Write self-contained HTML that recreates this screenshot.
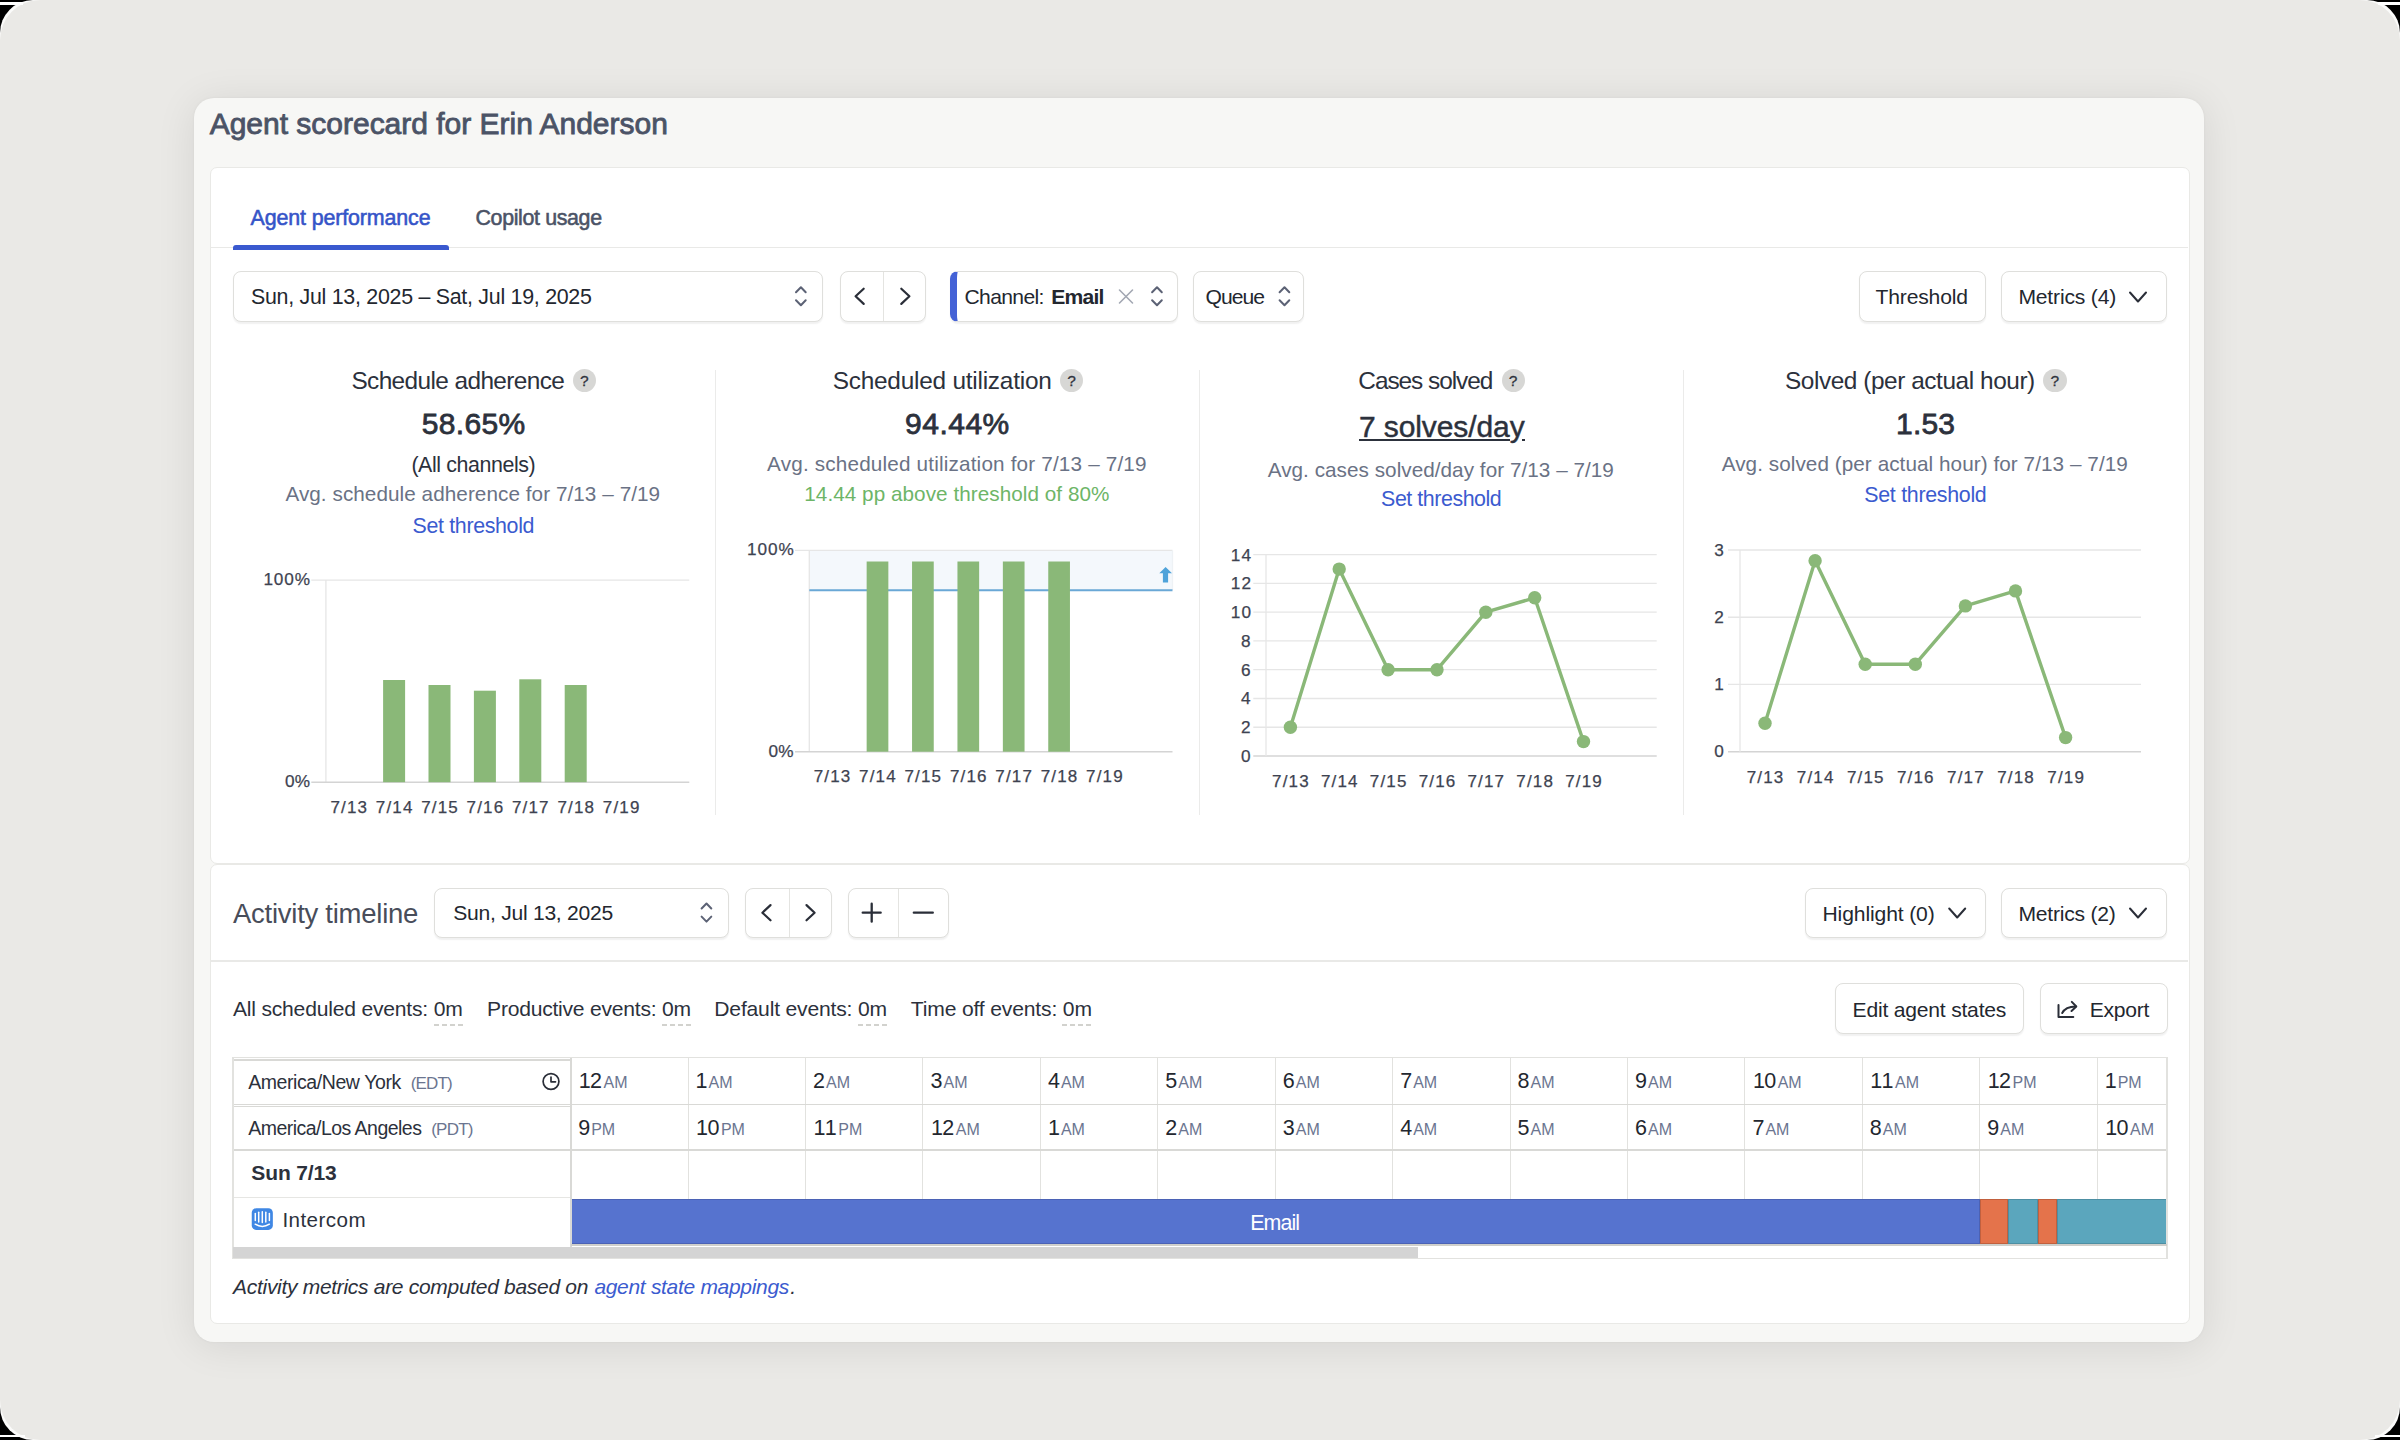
<!DOCTYPE html>
<html><head><meta charset="utf-8"><style>
html,body{margin:0;padding:0;}
body{width:2400px;height:1440px;background:#000;position:relative;overflow:hidden;font-family:"Liberation Sans",sans-serif;}
#ring{position:absolute;left:0;top:0;width:2400px;height:1440px;background:#fbfbfa;border-radius:33px;}
#bg{position:absolute;left:0;top:0;width:2400px;height:1440px;background:#eae9e6;border-radius:40px;}
.t{position:absolute;white-space:nowrap;line-height:1;}
</style></head><body>
<div id="ring"></div><div id="bg"></div>
<div style="position:absolute;left:0;top:2px;width:23px;height:2.6px;background:#fff"></div><div style="position:absolute;right:0;top:2px;width:22px;height:2.6px;background:#fff"></div><div style="position:absolute;left:0;top:1434.7px;width:25px;height:2.3px;background:#fff"></div><div style="position:absolute;right:0;top:1434.7px;width:25px;height:2.3px;background:#fff"></div>
<div style="position:absolute;left:194px;top:98px;width:2010px;height:1243.5px;background:#f7f7f5;border-radius:20px;box-shadow:0 4px 40px rgba(0,0,0,0.09), 0 0 3px rgba(0,0,0,0.05);"></div>
<div style="position:absolute;left:210px;top:167px;width:1980px;height:697px;background:#fff;border:1.2px solid #e9e9e6;border-radius:7px;box-sizing:border-box;"></div>
<div style="position:absolute;left:210px;top:864px;width:1980px;height:459.5px;background:#fff;border:1.2px solid #e9e9e6;border-radius:7px;box-sizing:border-box;"></div>
<div class="t" style="left:209.70px;top:109px;font-size:30px;font-weight:400;font-style:normal;color:#4b5366;letter-spacing:-0.013px;-webkit-text-stroke:0.85px #4b5366;">Agent scorecard for Erin Anderson</div>
<div class="t" style="left:250.50px;top:208px;font-size:21.4px;font-weight:400;font-style:normal;color:#3554c8;letter-spacing:-0.116px;-webkit-text-stroke:0.56px #3554c8;">Agent performance</div>
<div class="t" style="left:475.50px;top:208px;font-size:21.4px;font-weight:400;font-style:normal;color:#4b5366;letter-spacing:-0.354px;-webkit-text-stroke:0.56px #4b5366;">Copilot usage</div>
<div style="position:absolute;left:211px;top:247px;width:1977px;height:1.3px;background:#e9e9e7;"></div>
<div style="position:absolute;left:232.5px;top:245px;width:216px;height:5px;background:#3a59cf;border-radius:3px 3px 0 0;"></div>
<div style="position:absolute;left:233px;top:271px;width:590px;height:50.5px;background:#fff;border:1.3px solid #dfdfdc;border-radius:8px;box-shadow:0 1.5px 1.5px rgba(0,0,0,0.06);box-sizing:border-box;"></div>
<div class="t" style="left:251.00px;top:287px;font-size:21.4px;font-weight:400;font-style:normal;color:#23272f;letter-spacing:-0.276px;">Sun, Jul 13, 2025 – Sat, Jul 19, 2025</div>
<div style="position:absolute;left:839.5px;top:271px;width:86.5px;height:50.5px;background:#fff;border:1.3px solid #dfdfdc;border-radius:8px;box-shadow:0 1.5px 1.5px rgba(0,0,0,0.06);box-sizing:border-box;"></div>
<div style="position:absolute;left:883px;top:272px;width:1.3px;height:48.5px;background:#e4e4e1;"></div>
<div style="position:absolute;left:950px;top:271px;width:227.5px;height:50.5px;background:#fff;border:1.3px solid #dfdfdc;border-radius:8px;box-shadow:0 1.5px 1.5px rgba(0,0,0,0.06);box-sizing:border-box;border-left:7px solid #4462d6;"></div>
<div class="t" style="left:964.50px;top:286px;font-size:21.1px;font-weight:400;font-style:normal;color:#23272f;letter-spacing:-0.643px;">Channel:</div>
<div class="t" style="left:1051.30px;top:286px;font-size:21.1px;font-weight:700;font-style:normal;color:#23272f;letter-spacing:-0.794px;">Email</div>
<div style="position:absolute;left:1193px;top:271px;width:111px;height:50.5px;background:#fff;border:1.3px solid #dfdfdc;border-radius:8px;box-shadow:0 1.5px 1.5px rgba(0,0,0,0.06);box-sizing:border-box;"></div>
<div class="t" style="left:1205.50px;top:286px;font-size:21.1px;font-weight:400;font-style:normal;color:#23272f;letter-spacing:-0.969px;">Queue</div>
<div style="position:absolute;left:1859px;top:271px;width:126.5px;height:50.5px;background:#fff;border:1.3px solid #dfdfdc;border-radius:8px;box-shadow:0 1.5px 1.5px rgba(0,0,0,0.06);box-sizing:border-box;"></div>
<div class="t" style="left:1875.60px;top:286px;font-size:21.1px;font-weight:400;font-style:normal;color:#23272f;letter-spacing:-0.184px;">Threshold</div>
<div style="position:absolute;left:2001px;top:271px;width:166px;height:50.5px;background:#fff;border:1.3px solid #dfdfdc;border-radius:8px;box-shadow:0 1.5px 1.5px rgba(0,0,0,0.06);box-sizing:border-box;"></div>
<div class="t" style="left:2018.40px;top:286px;font-size:21.1px;font-weight:400;font-style:normal;color:#23272f;letter-spacing:-0.175px;">Metrics (4)</div>
<div style="position:absolute;left:714.5px;top:370px;width:1.3px;height:445px;background:#ebebea;"></div>
<div style="position:absolute;left:1198.5px;top:370px;width:1.3px;height:445px;background:#ebebea;"></div>
<div style="position:absolute;left:1682.5px;top:370px;width:1.3px;height:445px;background:#ebebea;"></div>
<div class="t" style="left:351.40px;top:369px;font-size:24.4px;font-weight:400;font-style:normal;color:#2c313c;letter-spacing:-0.601px;">Schedule adherence</div>
<div class="t" style="left:832.70px;top:369px;font-size:24.4px;font-weight:400;font-style:normal;color:#2c313c;letter-spacing:-0.231px;">Scheduled utilization</div>
<div class="t" style="left:1358.30px;top:369px;font-size:24.4px;font-weight:400;font-style:normal;color:#2c313c;letter-spacing:-1.034px;">Cases solved</div>
<div class="t" style="left:1785.00px;top:369px;font-size:24.4px;font-weight:400;font-style:normal;color:#2c313c;letter-spacing:-0.440px;">Solved (per actual hour)</div>
<div style="position:absolute;left:572.9px;top:368.9px;width:23.2px;height:23.3px;background:#d7d7d5;border-radius:50%;"></div>
<div class="t" style="left:580.05px;top:373px;font-size:15.5px;font-weight:400;font-style:normal;color:#2e323c;letter-spacing:0.000px;-webkit-text-stroke:0.3px #2e323c;">?</div>
<div style="position:absolute;left:1060.1000000000001px;top:368.9px;width:23.2px;height:23.3px;background:#d7d7d5;border-radius:50%;"></div>
<div class="t" style="left:1067.25px;top:373px;font-size:15.5px;font-weight:400;font-style:normal;color:#2e323c;letter-spacing:0.000px;-webkit-text-stroke:0.3px #2e323c;">?</div>
<div style="position:absolute;left:1501.7px;top:368.9px;width:23.2px;height:23.3px;background:#d7d7d5;border-radius:50%;"></div>
<div class="t" style="left:1508.85px;top:373px;font-size:15.5px;font-weight:400;font-style:normal;color:#2e323c;letter-spacing:0.000px;-webkit-text-stroke:0.3px #2e323c;">?</div>
<div style="position:absolute;left:2043.4px;top:368.9px;width:23.2px;height:23.3px;background:#d7d7d5;border-radius:50%;"></div>
<div class="t" style="left:2050.55px;top:373px;font-size:15.5px;font-weight:400;font-style:normal;color:#2e323c;letter-spacing:0.000px;-webkit-text-stroke:0.3px #2e323c;">?</div>
<div class="t" style="left:421.80px;top:409px;font-size:30px;font-weight:400;font-style:normal;color:#2c313c;letter-spacing:0.350px;-webkit-text-stroke:0.78px #2c313c;">58.65%</div>
<div class="t" style="left:905.10px;top:409px;font-size:30px;font-weight:400;font-style:normal;color:#2c313c;letter-spacing:0.490px;-webkit-text-stroke:0.78px #2c313c;">94.44%</div>
<div class="t" style="left:1896.00px;top:409px;font-size:30px;font-weight:400;font-style:normal;color:#2c313c;letter-spacing:0.208px;-webkit-text-stroke:0.78px #2c313c;">1.53</div>
<div class="t" style="left:1358.90px;top:412px;font-size:30px;font-weight:400;font-style:normal;color:#2c313c;letter-spacing:-0.086px;-webkit-text-stroke:0.45px #2c313c;">7 solves/day</div>
<div style="position:absolute;left:1358.9px;top:438.8px;width:151px;height:2.7px;background:#2c313c;"></div>
<div style="position:absolute;left:1522.3px;top:438.8px;width:2.6px;height:2.7px;background:#2c313c;"></div>
<div class="t" style="left:411.40px;top:455px;font-size:21.4px;font-weight:400;font-style:normal;color:#2c313c;letter-spacing:-0.408px;">(All channels)</div>
<div class="t" style="left:285.40px;top:484px;font-size:20.7px;font-weight:400;font-style:normal;color:#6a7285;letter-spacing:0.064px;">Avg. schedule adherence for 7/13 – 7/19</div>
<div class="t" style="left:412.60px;top:516px;font-size:21.4px;font-weight:400;font-style:normal;color:#3b5bcf;letter-spacing:-0.350px;">Set threshold</div>
<div class="t" style="left:767.10px;top:454px;font-size:20.7px;font-weight:400;font-style:normal;color:#6a7285;letter-spacing:0.176px;">Avg. scheduled utilization for 7/13 – 7/19</div>
<div class="t" style="left:804.30px;top:484px;font-size:20.7px;font-weight:400;font-style:normal;color:#6db567;letter-spacing:0.049px;">14.44 pp above threshold of 80%</div>
<div class="t" style="left:1267.70px;top:460px;font-size:20.7px;font-weight:400;font-style:normal;color:#6a7285;letter-spacing:0.043px;">Avg. cases solved/day for 7/13 – 7/19</div>
<div class="t" style="left:1381.10px;top:489px;font-size:21.4px;font-weight:400;font-style:normal;color:#3b5bcf;letter-spacing:-0.450px;">Set threshold</div>
<div class="t" style="left:1721.70px;top:454px;font-size:20.7px;font-weight:400;font-style:normal;color:#6a7285;letter-spacing:0.064px;">Avg. solved (per actual hour) for 7/13 – 7/19</div>
<div class="t" style="left:1864.30px;top:485px;font-size:21.4px;font-weight:400;font-style:normal;color:#3b5bcf;letter-spacing:-0.300px;">Set threshold</div>
<div class="t" style="left:233.00px;top:900px;font-size:27.5px;font-weight:400;font-style:normal;color:#484d5a;letter-spacing:-0.262px;">Activity timeline</div>
<div style="position:absolute;left:434px;top:887.5px;width:295px;height:50.5px;background:#fff;border:1.3px solid #dfdfdc;border-radius:8px;box-shadow:0 1.5px 1.5px rgba(0,0,0,0.06);box-sizing:border-box;"></div>
<div class="t" style="left:453.30px;top:902px;font-size:21.1px;font-weight:400;font-style:normal;color:#23272f;letter-spacing:-0.273px;">Sun, Jul 13, 2025</div>
<div style="position:absolute;left:745px;top:887.5px;width:87px;height:50.5px;background:#fff;border:1.3px solid #dfdfdc;border-radius:8px;box-shadow:0 1.5px 1.5px rgba(0,0,0,0.06);box-sizing:border-box;"></div>
<div style="position:absolute;left:789px;top:888.5px;width:1.3px;height:48.5px;background:#e4e4e1;"></div>
<div style="position:absolute;left:847.5px;top:887.5px;width:101.5px;height:50.5px;background:#fff;border:1.3px solid #dfdfdc;border-radius:8px;box-shadow:0 1.5px 1.5px rgba(0,0,0,0.06);box-sizing:border-box;"></div>
<div style="position:absolute;left:897.5px;top:888.5px;width:1.3px;height:48.5px;background:#e4e4e1;"></div>
<div style="position:absolute;left:1804.5px;top:887.5px;width:181px;height:50.5px;background:#fff;border:1.3px solid #dfdfdc;border-radius:8px;box-shadow:0 1.5px 1.5px rgba(0,0,0,0.06);box-sizing:border-box;"></div>
<div class="t" style="left:1822.50px;top:903px;font-size:21.1px;font-weight:400;font-style:normal;color:#23272f;letter-spacing:-0.123px;">Highlight (0)</div>
<div style="position:absolute;left:2001px;top:887.5px;width:166px;height:50.5px;background:#fff;border:1.3px solid #dfdfdc;border-radius:8px;box-shadow:0 1.5px 1.5px rgba(0,0,0,0.06);box-sizing:border-box;"></div>
<div class="t" style="left:2018.40px;top:903px;font-size:21.1px;font-weight:400;font-style:normal;color:#23272f;letter-spacing:-0.215px;">Metrics (2)</div>
<div style="position:absolute;left:211px;top:960.3px;width:1977px;height:1.3px;background:#e9e9e7;"></div>
<div class="t" style="left:232.90px;top:998px;font-size:21.1px;font-weight:400;font-style:normal;color:#2c313c;letter-spacing:-0.203px;">All scheduled events: 0m</div>
<div class="t" style="left:487.10px;top:998px;font-size:21.1px;font-weight:400;font-style:normal;color:#2c313c;letter-spacing:-0.240px;">Productive events: 0m</div>
<div class="t" style="left:714.30px;top:998px;font-size:21.1px;font-weight:400;font-style:normal;color:#2c313c;letter-spacing:-0.184px;">Default events: 0m</div>
<div class="t" style="left:910.80px;top:998px;font-size:21.1px;font-weight:400;font-style:normal;color:#2c313c;letter-spacing:-0.160px;">Time off events: 0m</div>
<div style="position:absolute;left:434px;top:1024px;width:30.19999999999999px;height:2px;background:repeating-linear-gradient(90deg,#d2d2ce 0 5px,transparent 5px 8px);"></div>
<div style="position:absolute;left:661.5px;top:1024px;width:30.0px;height:2px;background:repeating-linear-gradient(90deg,#d2d2ce 0 5px,transparent 5px 8px);"></div>
<div style="position:absolute;left:857.5px;top:1024px;width:30.0px;height:2px;background:repeating-linear-gradient(90deg,#d2d2ce 0 5px,transparent 5px 8px);"></div>
<div style="position:absolute;left:1062px;top:1024px;width:30.299999999999955px;height:2px;background:repeating-linear-gradient(90deg,#d2d2ce 0 5px,transparent 5px 8px);"></div>
<div style="position:absolute;left:1835px;top:983.3px;width:189px;height:51px;background:#fff;border:1.3px solid #dfdfdc;border-radius:8px;box-shadow:0 1.5px 1.5px rgba(0,0,0,0.06);box-sizing:border-box;"></div>
<div class="t" style="left:1852.60px;top:999px;font-size:21.1px;font-weight:400;font-style:normal;color:#23272f;letter-spacing:-0.211px;">Edit agent states</div>
<div style="position:absolute;left:2039.5px;top:983.3px;width:128px;height:51px;background:#fff;border:1.3px solid #dfdfdc;border-radius:8px;box-shadow:0 1.5px 1.5px rgba(0,0,0,0.06);box-sizing:border-box;"></div>
<div class="t" style="left:2089.80px;top:999px;font-size:21.1px;font-weight:400;font-style:normal;color:#23272f;letter-spacing:-0.300px;">Export</div>
<div class="t" style="left:233.12px;top:1276px;font-size:21px;font-weight:400;font-style:italic;color:#2c313c;letter-spacing:-0.303px;">Activity metrics are computed based on</div>
<div class="t" style="left:594.40px;top:1276px;font-size:21px;font-weight:400;font-style:italic;color:#3b5bcf;letter-spacing:-0.313px;">agent state mappings</div>
<div class="t" style="left:790.30px;top:1276px;font-size:21px;font-weight:400;font-style:italic;color:#2c313c;letter-spacing:0.000px;">.</div>
<div style="position:absolute;left:233px;top:1057px;width:1934px;height:202px;background:#fff;"></div>
<div style="position:absolute;left:688px;top:1058px;width:1.2px;height:187px;background:#e2e2df;"></div>
<div style="position:absolute;left:805px;top:1058px;width:1.2px;height:187px;background:#e2e2df;"></div>
<div style="position:absolute;left:922px;top:1058px;width:1.2px;height:187px;background:#e2e2df;"></div>
<div style="position:absolute;left:1040px;top:1058px;width:1.2px;height:187px;background:#e2e2df;"></div>
<div style="position:absolute;left:1157px;top:1058px;width:1.2px;height:187px;background:#e2e2df;"></div>
<div style="position:absolute;left:1275px;top:1058px;width:1.2px;height:187px;background:#e2e2df;"></div>
<div style="position:absolute;left:1392px;top:1058px;width:1.2px;height:187px;background:#e2e2df;"></div>
<div style="position:absolute;left:1510px;top:1058px;width:1.2px;height:187px;background:#e2e2df;"></div>
<div style="position:absolute;left:1627px;top:1058px;width:1.2px;height:187px;background:#e2e2df;"></div>
<div style="position:absolute;left:1744px;top:1058px;width:1.2px;height:187px;background:#e2e2df;"></div>
<div style="position:absolute;left:1862px;top:1058px;width:1.2px;height:187px;background:#e2e2df;"></div>
<div style="position:absolute;left:1979px;top:1058px;width:1.2px;height:187px;background:#e2e2df;"></div>
<div style="position:absolute;left:2097px;top:1058px;width:1.2px;height:187px;background:#e2e2df;"></div>
<div style="position:absolute;left:571px;top:1199px;width:1409px;height:44.7px;background:#5673cf;box-shadow:inset 0 0 0 1px #4b62b5;"></div>
<div style="position:absolute;left:1980px;top:1199px;width:28px;height:44.7px;background:#e4734b;box-shadow:inset 0 0 0 1px #c1603e;"></div>
<div style="position:absolute;left:2008px;top:1199px;width:30px;height:44.7px;background:#5ba6bd;box-shadow:inset 0 0 0 1px #4d8fa3;"></div>
<div style="position:absolute;left:2038px;top:1199px;width:19px;height:44.7px;background:#e4734b;box-shadow:inset 0 0 0 1px #c1603e;"></div>
<div style="position:absolute;left:2057px;top:1199px;width:110px;height:44.7px;background:#5ba6bd;box-shadow:inset 0 0 0 1px #4d8fa3;"></div>
<div class="t" style="left:1250.30px;top:1213px;font-size:21.4px;font-weight:400;font-style:normal;color:#ffffff;letter-spacing:-0.950px;">Email</div>
<div style="position:absolute;left:233px;top:1056.5px;width:1934px;height:1.3px;background:#e2e2df;"></div>
<div style="position:absolute;left:233px;top:1103.6px;width:1934px;height:1.6px;background:#d9d9d6;"></div>
<div style="position:absolute;left:233px;top:1149.3px;width:1934px;height:1.6px;background:#d9d9d6;"></div>
<div style="position:absolute;left:233px;top:1059.4px;width:337.6px;height:1.6px;background:#d9d9d6;"></div>
<div style="position:absolute;left:233px;top:1105.6px;width:337.6px;height:1.6px;background:#d9d9d6;"></div>
<div style="position:absolute;left:233px;top:1196.8px;width:337.6px;height:1.2px;background:#e6e6e3;"></div>
<div style="position:absolute;left:569.8px;top:1058px;width:1.8px;height:189.5999999999999px;background:#d9d9d6;"></div>
<div style="position:absolute;left:232.4px;top:1056.5px;width:1.3px;height:202.5px;background:#e2e2df;"></div>
<div style="position:absolute;left:2166.4px;top:1056.5px;width:1.3px;height:202.5px;background:#e2e2df;"></div>
<div style="position:absolute;left:571px;top:1243.8px;width:1596px;height:2.2px;background:#cfcfcb;"></div>
<div style="position:absolute;left:233px;top:1247.4px;width:1185px;height:10.6px;background:#d4d4d4;"></div>
<div style="position:absolute;left:233px;top:1257.9px;width:1934px;height:1.3px;background:#e2e2df;"></div>
<div class="t" style="left:578.70px;top:1071px;font-size:21.5px;font-weight:400;font-style:normal;color:#23272f;letter-spacing:-0.575px;">12</div>
<div class="t" style="left:603.50px;top:1075px;font-size:16px;font-weight:400;font-style:normal;color:#6b7590;letter-spacing:0.000px;">AM</div>
<div class="t" style="left:578.20px;top:1118px;font-size:21.5px;font-weight:400;font-style:normal;color:#23272f;letter-spacing:0.000px;">9</div>
<div class="t" style="left:591.20px;top:1122px;font-size:16px;font-weight:400;font-style:normal;color:#6b7590;letter-spacing:0.000px;">PM</div>
<div class="t" style="left:695.62px;top:1071px;font-size:21.5px;font-weight:400;font-style:normal;color:#23272f;letter-spacing:0.000px;">1</div>
<div class="t" style="left:708.62px;top:1075px;font-size:16px;font-weight:400;font-style:normal;color:#6b7590;letter-spacing:0.000px;">AM</div>
<div class="t" style="left:696.12px;top:1118px;font-size:21.5px;font-weight:400;font-style:normal;color:#23272f;letter-spacing:-0.575px;">10</div>
<div class="t" style="left:720.92px;top:1122px;font-size:16px;font-weight:400;font-style:normal;color:#6b7590;letter-spacing:0.000px;">PM</div>
<div class="t" style="left:813.04px;top:1071px;font-size:21.5px;font-weight:400;font-style:normal;color:#23272f;letter-spacing:0.000px;">2</div>
<div class="t" style="left:826.04px;top:1075px;font-size:16px;font-weight:400;font-style:normal;color:#6b7590;letter-spacing:0.000px;">AM</div>
<div class="t" style="left:813.54px;top:1118px;font-size:21.5px;font-weight:400;font-style:normal;color:#23272f;letter-spacing:0.925px;">11</div>
<div class="t" style="left:838.34px;top:1122px;font-size:16px;font-weight:400;font-style:normal;color:#6b7590;letter-spacing:0.000px;">PM</div>
<div class="t" style="left:930.46px;top:1071px;font-size:21.5px;font-weight:400;font-style:normal;color:#23272f;letter-spacing:0.000px;">3</div>
<div class="t" style="left:943.46px;top:1075px;font-size:16px;font-weight:400;font-style:normal;color:#6b7590;letter-spacing:0.000px;">AM</div>
<div class="t" style="left:930.96px;top:1118px;font-size:21.5px;font-weight:400;font-style:normal;color:#23272f;letter-spacing:-0.575px;">12</div>
<div class="t" style="left:955.76px;top:1122px;font-size:16px;font-weight:400;font-style:normal;color:#6b7590;letter-spacing:0.000px;">AM</div>
<div class="t" style="left:1047.88px;top:1071px;font-size:21.5px;font-weight:400;font-style:normal;color:#23272f;letter-spacing:0.000px;">4</div>
<div class="t" style="left:1060.88px;top:1075px;font-size:16px;font-weight:400;font-style:normal;color:#6b7590;letter-spacing:0.000px;">AM</div>
<div class="t" style="left:1047.88px;top:1118px;font-size:21.5px;font-weight:400;font-style:normal;color:#23272f;letter-spacing:0.000px;">1</div>
<div class="t" style="left:1060.88px;top:1122px;font-size:16px;font-weight:400;font-style:normal;color:#6b7590;letter-spacing:0.000px;">AM</div>
<div class="t" style="left:1165.30px;top:1071px;font-size:21.5px;font-weight:400;font-style:normal;color:#23272f;letter-spacing:0.000px;">5</div>
<div class="t" style="left:1178.30px;top:1075px;font-size:16px;font-weight:400;font-style:normal;color:#6b7590;letter-spacing:0.000px;">AM</div>
<div class="t" style="left:1165.30px;top:1118px;font-size:21.5px;font-weight:400;font-style:normal;color:#23272f;letter-spacing:0.000px;">2</div>
<div class="t" style="left:1178.30px;top:1122px;font-size:16px;font-weight:400;font-style:normal;color:#6b7590;letter-spacing:0.000px;">AM</div>
<div class="t" style="left:1282.72px;top:1071px;font-size:21.5px;font-weight:400;font-style:normal;color:#23272f;letter-spacing:0.000px;">6</div>
<div class="t" style="left:1295.72px;top:1075px;font-size:16px;font-weight:400;font-style:normal;color:#6b7590;letter-spacing:0.000px;">AM</div>
<div class="t" style="left:1282.72px;top:1118px;font-size:21.5px;font-weight:400;font-style:normal;color:#23272f;letter-spacing:0.000px;">3</div>
<div class="t" style="left:1295.72px;top:1122px;font-size:16px;font-weight:400;font-style:normal;color:#6b7590;letter-spacing:0.000px;">AM</div>
<div class="t" style="left:1400.14px;top:1071px;font-size:21.5px;font-weight:400;font-style:normal;color:#23272f;letter-spacing:0.000px;">7</div>
<div class="t" style="left:1413.14px;top:1075px;font-size:16px;font-weight:400;font-style:normal;color:#6b7590;letter-spacing:0.000px;">AM</div>
<div class="t" style="left:1400.14px;top:1118px;font-size:21.5px;font-weight:400;font-style:normal;color:#23272f;letter-spacing:0.000px;">4</div>
<div class="t" style="left:1413.14px;top:1122px;font-size:16px;font-weight:400;font-style:normal;color:#6b7590;letter-spacing:0.000px;">AM</div>
<div class="t" style="left:1517.56px;top:1071px;font-size:21.5px;font-weight:400;font-style:normal;color:#23272f;letter-spacing:0.000px;">8</div>
<div class="t" style="left:1530.56px;top:1075px;font-size:16px;font-weight:400;font-style:normal;color:#6b7590;letter-spacing:0.000px;">AM</div>
<div class="t" style="left:1517.56px;top:1118px;font-size:21.5px;font-weight:400;font-style:normal;color:#23272f;letter-spacing:0.000px;">5</div>
<div class="t" style="left:1530.56px;top:1122px;font-size:16px;font-weight:400;font-style:normal;color:#6b7590;letter-spacing:0.000px;">AM</div>
<div class="t" style="left:1634.98px;top:1071px;font-size:21.5px;font-weight:400;font-style:normal;color:#23272f;letter-spacing:0.000px;">9</div>
<div class="t" style="left:1647.98px;top:1075px;font-size:16px;font-weight:400;font-style:normal;color:#6b7590;letter-spacing:0.000px;">AM</div>
<div class="t" style="left:1634.98px;top:1118px;font-size:21.5px;font-weight:400;font-style:normal;color:#23272f;letter-spacing:0.000px;">6</div>
<div class="t" style="left:1647.98px;top:1122px;font-size:16px;font-weight:400;font-style:normal;color:#6b7590;letter-spacing:0.000px;">AM</div>
<div class="t" style="left:1752.90px;top:1071px;font-size:21.5px;font-weight:400;font-style:normal;color:#23272f;letter-spacing:-0.575px;">10</div>
<div class="t" style="left:1777.70px;top:1075px;font-size:16px;font-weight:400;font-style:normal;color:#6b7590;letter-spacing:0.000px;">AM</div>
<div class="t" style="left:1752.40px;top:1118px;font-size:21.5px;font-weight:400;font-style:normal;color:#23272f;letter-spacing:0.000px;">7</div>
<div class="t" style="left:1765.40px;top:1122px;font-size:16px;font-weight:400;font-style:normal;color:#6b7590;letter-spacing:0.000px;">AM</div>
<div class="t" style="left:1870.32px;top:1071px;font-size:21.5px;font-weight:400;font-style:normal;color:#23272f;letter-spacing:0.925px;">11</div>
<div class="t" style="left:1895.12px;top:1075px;font-size:16px;font-weight:400;font-style:normal;color:#6b7590;letter-spacing:0.000px;">AM</div>
<div class="t" style="left:1869.82px;top:1118px;font-size:21.5px;font-weight:400;font-style:normal;color:#23272f;letter-spacing:0.000px;">8</div>
<div class="t" style="left:1882.82px;top:1122px;font-size:16px;font-weight:400;font-style:normal;color:#6b7590;letter-spacing:0.000px;">AM</div>
<div class="t" style="left:1987.74px;top:1071px;font-size:21.5px;font-weight:400;font-style:normal;color:#23272f;letter-spacing:-0.575px;">12</div>
<div class="t" style="left:2012.54px;top:1075px;font-size:16px;font-weight:400;font-style:normal;color:#6b7590;letter-spacing:0.000px;">PM</div>
<div class="t" style="left:1987.24px;top:1118px;font-size:21.5px;font-weight:400;font-style:normal;color:#23272f;letter-spacing:0.000px;">9</div>
<div class="t" style="left:2000.24px;top:1122px;font-size:16px;font-weight:400;font-style:normal;color:#6b7590;letter-spacing:0.000px;">AM</div>
<div class="t" style="left:2104.66px;top:1071px;font-size:21.5px;font-weight:400;font-style:normal;color:#23272f;letter-spacing:0.000px;">1</div>
<div class="t" style="left:2117.66px;top:1075px;font-size:16px;font-weight:400;font-style:normal;color:#6b7590;letter-spacing:0.000px;">PM</div>
<div class="t" style="left:2105.16px;top:1118px;font-size:21.5px;font-weight:400;font-style:normal;color:#23272f;letter-spacing:-0.575px;">10</div>
<div class="t" style="left:2129.96px;top:1122px;font-size:16px;font-weight:400;font-style:normal;color:#6b7590;letter-spacing:0.000px;">AM</div>
<div class="t" style="left:248.20px;top:1073px;font-size:19.5px;font-weight:400;font-style:normal;color:#2c313c;letter-spacing:-0.420px;">America/New York</div>
<div class="t" style="left:410.70px;top:1075px;font-size:17px;font-weight:400;font-style:normal;color:#6b7590;letter-spacing:-0.819px;">(EDT)</div>
<div class="t" style="left:248.20px;top:1119px;font-size:19.5px;font-weight:400;font-style:normal;color:#2c313c;letter-spacing:-0.525px;">America/Los Angeles</div>
<div class="t" style="left:431.20px;top:1121px;font-size:17px;font-weight:400;font-style:normal;color:#6b7590;letter-spacing:-0.744px;">(PDT)</div>
<div class="t" style="left:251.30px;top:1162px;font-size:21px;font-weight:700;font-style:normal;color:#2c313c;letter-spacing:-0.125px;">Sun 7/13</div>
<div class="t" style="left:282.40px;top:1210px;font-size:20.6px;font-weight:400;font-style:normal;color:#2c313c;letter-spacing:0.436px;">Intercom</div>
<div class="t" style="left:263.40px;top:571px;font-size:17.2px;font-weight:400;font-style:normal;color:#3e4351;letter-spacing:0.925px;-webkit-text-stroke:0.25px #3e4351;">100%</div>
<div class="t" style="left:285.00px;top:773px;font-size:17.2px;font-weight:400;font-style:normal;color:#3e4351;letter-spacing:0.125px;-webkit-text-stroke:0.25px #3e4351;">0%</div>
<div class="t" style="left:747.00px;top:541px;font-size:17.2px;font-weight:400;font-style:normal;color:#3e4351;letter-spacing:0.925px;-webkit-text-stroke:0.25px #3e4351;">100%</div>
<div class="t" style="left:768.60px;top:743px;font-size:17.2px;font-weight:400;font-style:normal;color:#3e4351;letter-spacing:0.125px;-webkit-text-stroke:0.25px #3e4351;">0%</div>
<div class="t" style="left:1241.00px;top:748px;font-size:17.2px;font-weight:400;font-style:normal;color:#3e4351;letter-spacing:0.000px;-webkit-text-stroke:0.25px #3e4351;">0</div>
<div class="t" style="left:1241.00px;top:719px;font-size:17.2px;font-weight:400;font-style:normal;color:#3e4351;letter-spacing:0.000px;-webkit-text-stroke:0.25px #3e4351;">2</div>
<div class="t" style="left:1241.00px;top:690px;font-size:17.2px;font-weight:400;font-style:normal;color:#3e4351;letter-spacing:0.000px;-webkit-text-stroke:0.25px #3e4351;">4</div>
<div class="t" style="left:1241.00px;top:662px;font-size:17.2px;font-weight:400;font-style:normal;color:#3e4351;letter-spacing:0.000px;-webkit-text-stroke:0.25px #3e4351;">6</div>
<div class="t" style="left:1241.00px;top:633px;font-size:17.2px;font-weight:400;font-style:normal;color:#3e4351;letter-spacing:0.000px;-webkit-text-stroke:0.25px #3e4351;">8</div>
<div class="t" style="left:1230.70px;top:604px;font-size:17.2px;font-weight:400;font-style:normal;color:#3e4351;letter-spacing:1.348px;-webkit-text-stroke:0.25px #3e4351;">10</div>
<div class="t" style="left:1230.70px;top:575px;font-size:17.2px;font-weight:400;font-style:normal;color:#3e4351;letter-spacing:1.348px;-webkit-text-stroke:0.25px #3e4351;">12</div>
<div class="t" style="left:1230.70px;top:547px;font-size:17.2px;font-weight:400;font-style:normal;color:#3e4351;letter-spacing:1.348px;-webkit-text-stroke:0.25px #3e4351;">14</div>
<div class="t" style="left:1714.20px;top:743px;font-size:17.2px;font-weight:400;font-style:normal;color:#3e4351;letter-spacing:0.000px;-webkit-text-stroke:0.25px #3e4351;">0</div>
<div class="t" style="left:1714.20px;top:676px;font-size:17.2px;font-weight:400;font-style:normal;color:#3e4351;letter-spacing:0.000px;-webkit-text-stroke:0.25px #3e4351;">1</div>
<div class="t" style="left:1714.20px;top:609px;font-size:17.2px;font-weight:400;font-style:normal;color:#3e4351;letter-spacing:0.000px;-webkit-text-stroke:0.25px #3e4351;">2</div>
<div class="t" style="left:1714.20px;top:542px;font-size:17.2px;font-weight:400;font-style:normal;color:#3e4351;letter-spacing:0.000px;-webkit-text-stroke:0.25px #3e4351;">3</div>
<div class="t" style="left:330.40px;top:799px;font-size:17px;font-weight:400;font-style:normal;color:#3e4351;letter-spacing:1.158px;-webkit-text-stroke:0.25px #3e4351;">7/13</div>
<div class="t" style="left:375.80px;top:799px;font-size:17px;font-weight:400;font-style:normal;color:#3e4351;letter-spacing:1.158px;-webkit-text-stroke:0.25px #3e4351;">7/14</div>
<div class="t" style="left:421.20px;top:799px;font-size:17px;font-weight:400;font-style:normal;color:#3e4351;letter-spacing:1.158px;-webkit-text-stroke:0.25px #3e4351;">7/15</div>
<div class="t" style="left:466.60px;top:799px;font-size:17px;font-weight:400;font-style:normal;color:#3e4351;letter-spacing:1.158px;-webkit-text-stroke:0.25px #3e4351;">7/16</div>
<div class="t" style="left:512.00px;top:799px;font-size:17px;font-weight:400;font-style:normal;color:#3e4351;letter-spacing:1.158px;-webkit-text-stroke:0.25px #3e4351;">7/17</div>
<div class="t" style="left:557.40px;top:799px;font-size:17px;font-weight:400;font-style:normal;color:#3e4351;letter-spacing:1.158px;-webkit-text-stroke:0.25px #3e4351;">7/18</div>
<div class="t" style="left:602.80px;top:799px;font-size:17px;font-weight:400;font-style:normal;color:#3e4351;letter-spacing:1.158px;-webkit-text-stroke:0.25px #3e4351;">7/19</div>
<div class="t" style="left:813.70px;top:768px;font-size:17px;font-weight:400;font-style:normal;color:#3e4351;letter-spacing:1.158px;-webkit-text-stroke:0.25px #3e4351;">7/13</div>
<div class="t" style="left:859.10px;top:768px;font-size:17px;font-weight:400;font-style:normal;color:#3e4351;letter-spacing:1.158px;-webkit-text-stroke:0.25px #3e4351;">7/14</div>
<div class="t" style="left:904.50px;top:768px;font-size:17px;font-weight:400;font-style:normal;color:#3e4351;letter-spacing:1.158px;-webkit-text-stroke:0.25px #3e4351;">7/15</div>
<div class="t" style="left:949.90px;top:768px;font-size:17px;font-weight:400;font-style:normal;color:#3e4351;letter-spacing:1.158px;-webkit-text-stroke:0.25px #3e4351;">7/16</div>
<div class="t" style="left:995.30px;top:768px;font-size:17px;font-weight:400;font-style:normal;color:#3e4351;letter-spacing:1.158px;-webkit-text-stroke:0.25px #3e4351;">7/17</div>
<div class="t" style="left:1040.70px;top:768px;font-size:17px;font-weight:400;font-style:normal;color:#3e4351;letter-spacing:1.158px;-webkit-text-stroke:0.25px #3e4351;">7/18</div>
<div class="t" style="left:1086.10px;top:768px;font-size:17px;font-weight:400;font-style:normal;color:#3e4351;letter-spacing:1.158px;-webkit-text-stroke:0.25px #3e4351;">7/19</div>
<div class="t" style="left:1272.10px;top:773px;font-size:17px;font-weight:400;font-style:normal;color:#3e4351;letter-spacing:1.158px;-webkit-text-stroke:0.25px #3e4351;">7/13</div>
<div class="t" style="left:1320.95px;top:773px;font-size:17px;font-weight:400;font-style:normal;color:#3e4351;letter-spacing:1.158px;-webkit-text-stroke:0.25px #3e4351;">7/14</div>
<div class="t" style="left:1369.80px;top:773px;font-size:17px;font-weight:400;font-style:normal;color:#3e4351;letter-spacing:1.158px;-webkit-text-stroke:0.25px #3e4351;">7/15</div>
<div class="t" style="left:1418.65px;top:773px;font-size:17px;font-weight:400;font-style:normal;color:#3e4351;letter-spacing:1.158px;-webkit-text-stroke:0.25px #3e4351;">7/16</div>
<div class="t" style="left:1467.50px;top:773px;font-size:17px;font-weight:400;font-style:normal;color:#3e4351;letter-spacing:1.158px;-webkit-text-stroke:0.25px #3e4351;">7/17</div>
<div class="t" style="left:1516.35px;top:773px;font-size:17px;font-weight:400;font-style:normal;color:#3e4351;letter-spacing:1.158px;-webkit-text-stroke:0.25px #3e4351;">7/18</div>
<div class="t" style="left:1565.20px;top:773px;font-size:17px;font-weight:400;font-style:normal;color:#3e4351;letter-spacing:1.158px;-webkit-text-stroke:0.25px #3e4351;">7/19</div>
<div class="t" style="left:1746.70px;top:769px;font-size:17px;font-weight:400;font-style:normal;color:#3e4351;letter-spacing:1.158px;-webkit-text-stroke:0.25px #3e4351;">7/13</div>
<div class="t" style="left:1796.80px;top:769px;font-size:17px;font-weight:400;font-style:normal;color:#3e4351;letter-spacing:1.158px;-webkit-text-stroke:0.25px #3e4351;">7/14</div>
<div class="t" style="left:1846.90px;top:769px;font-size:17px;font-weight:400;font-style:normal;color:#3e4351;letter-spacing:1.158px;-webkit-text-stroke:0.25px #3e4351;">7/15</div>
<div class="t" style="left:1897.00px;top:769px;font-size:17px;font-weight:400;font-style:normal;color:#3e4351;letter-spacing:1.158px;-webkit-text-stroke:0.25px #3e4351;">7/16</div>
<div class="t" style="left:1947.10px;top:769px;font-size:17px;font-weight:400;font-style:normal;color:#3e4351;letter-spacing:1.158px;-webkit-text-stroke:0.25px #3e4351;">7/17</div>
<div class="t" style="left:1997.20px;top:769px;font-size:17px;font-weight:400;font-style:normal;color:#3e4351;letter-spacing:1.158px;-webkit-text-stroke:0.25px #3e4351;">7/18</div>
<div class="t" style="left:2047.30px;top:769px;font-size:17px;font-weight:400;font-style:normal;color:#3e4351;letter-spacing:1.158px;-webkit-text-stroke:0.25px #3e4351;">7/19</div>
<svg style="position:absolute;left:0;top:0" width="2400" height="1440"><line x1="311.3" y1="580.1" x2="689.3" y2="580.1" stroke="#e6e6e6" stroke-width="1.3" /><line x1="325.9" y1="580.1" x2="325.9" y2="782.2" stroke="#e6e6e6" stroke-width="1.3" /><line x1="311.3" y1="782.2" x2="689.3" y2="782.2" stroke="#d4d4d4" stroke-width="1.6" /><rect x="383.1" y="680" width="22" height="102.20000000000005" fill="#8ab878"/><rect x="428.5" y="685" width="22" height="97.20000000000005" fill="#8ab878"/><rect x="473.90000000000003" y="690.7" width="22" height="91.5" fill="#8ab878"/><rect x="519.3" y="679.3" width="22" height="102.90000000000009" fill="#8ab878"/><rect x="564.7" y="685" width="22" height="97.20000000000005" fill="#8ab878"/><rect x="809.3" y="550.3" width="363.2" height="40" fill="#f4f8fc"/><line x1="795" y1="550.3" x2="1172.5" y2="550.3" stroke="#e6e6e6" stroke-width="1.3" /><line x1="809.3" y1="550.3" x2="809.3" y2="751.7" stroke="#e6e6e6" stroke-width="1.3" /><line x1="1172.5" y1="550.3" x2="1172.5" y2="590" stroke="#eef2f5" stroke-width="1.3" /><line x1="795" y1="751.7" x2="1172.5" y2="751.7" stroke="#d4d4d4" stroke-width="1.6" /><line x1="809.3" y1="590.3" x2="1172.5" y2="590.3" stroke="#6aa8d6" stroke-width="2" /><rect x="866.65" y="561.5" width="21.7" height="190.20000000000005" fill="#8ab878"/><rect x="912.05" y="561.5" width="21.7" height="190.20000000000005" fill="#8ab878"/><rect x="957.4499999999999" y="561.5" width="21.7" height="190.20000000000005" fill="#8ab878"/><rect x="1002.85" y="561.5" width="21.7" height="190.20000000000005" fill="#8ab878"/><rect x="1048.25" y="561.5" width="21.7" height="190.20000000000005" fill="#8ab878"/><path d="M1165.6,566.9 L1172,573.3 L1168.1,573.3 L1168.1,582.5 L1162.9,582.5 L1162.9,573.3 L1159.3,573.3 Z" fill="#4fa3da"/><line x1="1253.3" y1="756.0" x2="1656.7" y2="756.0" stroke="#d4d4d4" stroke-width="1.6" /><line x1="1253.3" y1="727.24" x2="1656.7" y2="727.24" stroke="#e6e6e6" stroke-width="1.3" /><line x1="1253.3" y1="698.48" x2="1656.7" y2="698.48" stroke="#e6e6e6" stroke-width="1.3" /><line x1="1253.3" y1="669.72" x2="1656.7" y2="669.72" stroke="#e6e6e6" stroke-width="1.3" /><line x1="1253.3" y1="640.96" x2="1656.7" y2="640.96" stroke="#e6e6e6" stroke-width="1.3" /><line x1="1253.3" y1="612.2" x2="1656.7" y2="612.2" stroke="#e6e6e6" stroke-width="1.3" /><line x1="1253.3" y1="583.44" x2="1656.7" y2="583.44" stroke="#e6e6e6" stroke-width="1.3" /><line x1="1253.3" y1="554.68" x2="1656.7" y2="554.68" stroke="#e6e6e6" stroke-width="1.3" /><line x1="1266" y1="554.7" x2="1266" y2="756" stroke="#e6e6e6" stroke-width="1.3" /><polyline points="1290.4,727.2 1339.2,569.1 1388.1,669.7 1437.0,669.7 1485.8,612.2 1534.7,597.8 1583.5,741.6" fill="none" stroke="#8ab878" stroke-width="3.4" stroke-linejoin="round"/><circle cx="1290.4" cy="727.2" r="6.7" fill="#8ab878"/><circle cx="1339.2" cy="569.1" r="6.7" fill="#8ab878"/><circle cx="1388.1" cy="669.7" r="6.7" fill="#8ab878"/><circle cx="1437.0" cy="669.7" r="6.7" fill="#8ab878"/><circle cx="1485.8" cy="612.2" r="6.7" fill="#8ab878"/><circle cx="1534.7" cy="597.8" r="6.7" fill="#8ab878"/><circle cx="1583.5" cy="741.6" r="6.7" fill="#8ab878"/><line x1="1728" y1="751.7" x2="2141" y2="751.7" stroke="#d4d4d4" stroke-width="1.6" /><line x1="1728" y1="684.47" x2="2141" y2="684.47" stroke="#e6e6e6" stroke-width="1.3" /><line x1="1728" y1="617.24" x2="2141" y2="617.24" stroke="#e6e6e6" stroke-width="1.3" /><line x1="1728" y1="550.01" x2="2141" y2="550.01" stroke="#e6e6e6" stroke-width="1.3" /><line x1="1740" y1="550" x2="1740" y2="751.7" stroke="#e6e6e6" stroke-width="1.3" /><polyline points="1765.0,723.2 1815.1,560.8 1865.2,664.2 1915.3,664.2 1965.4,605.9 2015.5,590.9 2065.6,737.6" fill="none" stroke="#8ab878" stroke-width="3.4" stroke-linejoin="round"/><circle cx="1765.0" cy="723.2" r="6.7" fill="#8ab878"/><circle cx="1815.1" cy="560.8" r="6.7" fill="#8ab878"/><circle cx="1865.2" cy="664.2" r="6.7" fill="#8ab878"/><circle cx="1915.3" cy="664.2" r="6.7" fill="#8ab878"/><circle cx="1965.4" cy="605.9" r="6.7" fill="#8ab878"/><circle cx="2015.5" cy="590.9" r="6.7" fill="#8ab878"/><circle cx="2065.6" cy="737.6" r="6.7" fill="#8ab878"/><circle cx="551" cy="1081.5" r="7.9" fill="none" stroke="#2a2e38" stroke-width="1.7"/><path d="M551,1077 L551,1081.8 L555.5,1081.8" fill="none" stroke="#2a2e38" stroke-width="1.7" stroke-linecap="round" stroke-linejoin="round" /><rect x="251.75" y="1208.3" width="21.1" height="21.6" rx="4.5" fill="#3f87e4"/><line x1="255.3" y1="1213.6" x2="255.3" y2="1220.4" stroke="#fff" stroke-width="1.5" stroke-linecap="round"/><line x1="258.7" y1="1212.2" x2="258.7" y2="1222" stroke="#fff" stroke-width="1.5" stroke-linecap="round"/><line x1="262.3" y1="1211.7" x2="262.3" y2="1222.4" stroke="#fff" stroke-width="1.5" stroke-linecap="round"/><line x1="265.8" y1="1212.2" x2="265.8" y2="1222" stroke="#fff" stroke-width="1.5" stroke-linecap="round"/><line x1="269.4" y1="1213.6" x2="269.4" y2="1220.4" stroke="#fff" stroke-width="1.5" stroke-linecap="round"/><path d="M255.2,1224.2 Q262.3,1228.6 269.4,1224.2" fill="none" stroke="#fff" stroke-width="1.5" stroke-linecap="round" stroke-linejoin="round" /><path d="M796.0,292.2 L800.9,287.2 L805.6999999999999,292.2" fill="none" stroke="#5c6275" stroke-width="2" stroke-linecap="round" stroke-linejoin="round" /><path d="M796.0,300.3 L800.9,305.3 L805.6999999999999,300.3" fill="none" stroke="#5c6275" stroke-width="2" stroke-linecap="round" stroke-linejoin="round" /><path d="M1152.1,292.2 L1157,287.2 L1161.8,292.2" fill="none" stroke="#5c6275" stroke-width="2" stroke-linecap="round" stroke-linejoin="round" /><path d="M1152.1,300.3 L1157,305.3 L1161.8,300.3" fill="none" stroke="#5c6275" stroke-width="2" stroke-linecap="round" stroke-linejoin="round" /><path d="M1279.6,292.2 L1284.5,287.2 L1289.3,292.2" fill="none" stroke="#5c6275" stroke-width="2" stroke-linecap="round" stroke-linejoin="round" /><path d="M1279.6,300.3 L1284.5,305.3 L1289.3,300.3" fill="none" stroke="#5c6275" stroke-width="2" stroke-linecap="round" stroke-linejoin="round" /><path d="M701.6,908.5 L706.5,903.5 L711.3,908.5" fill="none" stroke="#5c6275" stroke-width="2" stroke-linecap="round" stroke-linejoin="round" /><path d="M701.6,916.6 L706.5,921.6 L711.3,916.6" fill="none" stroke="#5c6275" stroke-width="2" stroke-linecap="round" stroke-linejoin="round" /><path d="M863.7,288.7 L855.6,296.3 L863.7,303.90000000000003" fill="none" stroke="#2a2e38" stroke-width="2.2" stroke-linecap="round" stroke-linejoin="round" /><path d="M901.3,288.7 L909.4,296.3 L901.3,303.90000000000003" fill="none" stroke="#2a2e38" stroke-width="2.2" stroke-linecap="round" stroke-linejoin="round" /><path d="M770.5,905.1 L762.4,912.7 L770.5,920.3000000000001" fill="none" stroke="#2a2e38" stroke-width="2.2" stroke-linecap="round" stroke-linejoin="round" /><path d="M806.5,905.1 L814.6,912.7 L806.5,920.3000000000001" fill="none" stroke="#2a2e38" stroke-width="2.2" stroke-linecap="round" stroke-linejoin="round" /><path d="M2130,292.5 L2138,301.5 L2146,292.5" fill="none" stroke="#2a2e38" stroke-width="2" stroke-linecap="round" stroke-linejoin="round" /><path d="M1949.2,908.5 L1957.2,917.5 L1965.2,908.5" fill="none" stroke="#2a2e38" stroke-width="2" stroke-linecap="round" stroke-linejoin="round" /><path d="M2130,908.5 L2138,917.5 L2146,908.5" fill="none" stroke="#2a2e38" stroke-width="2" stroke-linecap="round" stroke-linejoin="round" /><path d="M1119.5,290 L1132.5,303 M1132.5,290 L1119.5,303" fill="none" stroke="#a3a8b3" stroke-width="1.6" stroke-linecap="round" stroke-linejoin="round" /><path d="M871.7,903.7 L871.7,921.7 M862.7,912.7 L880.7,912.7" fill="none" stroke="#2a2e38" stroke-width="2.3" stroke-linecap="round" stroke-linejoin="round" /><path d="M913.8,912.7 L932.8,912.7" fill="none" stroke="#2a2e38" stroke-width="2.3" stroke-linecap="round" stroke-linejoin="round" /><path d="M2058.5,1005 L2058.5,1017 L2073.3,1017" fill="none" stroke="#2a2e38" stroke-width="2" stroke-linecap="round" stroke-linejoin="round" /><path d="M2062.2,1013 C2064.5,1008.5 2068,1006.6 2075.8,1006.5" fill="none" stroke="#2a2e38" stroke-width="2" stroke-linecap="round" stroke-linejoin="round" /><path d="M2071.8,1001.9 L2076.3,1006.5 L2071.5,1011" fill="none" stroke="#2a2e38" stroke-width="2" stroke-linecap="round" stroke-linejoin="round" /></svg>
</body></html>
